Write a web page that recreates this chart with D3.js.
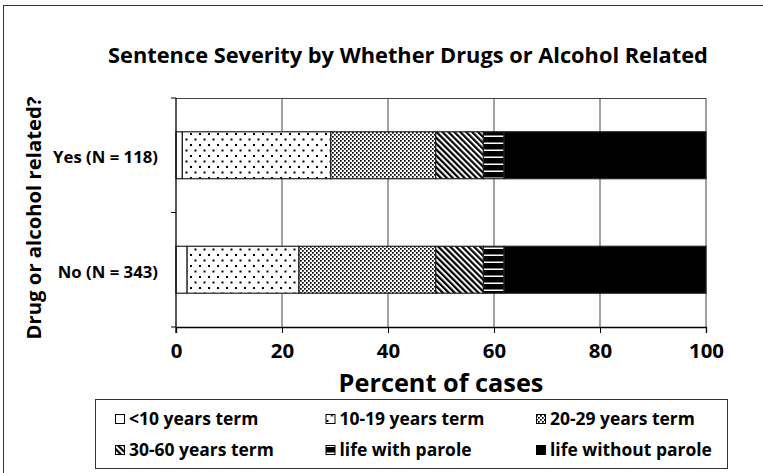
<!DOCTYPE html>
<html><head><meta charset="utf-8">
<script src="https://cdn.jsdelivr.net/npm/d3@7"></script>
<style>
body{margin:0;background:#fff}
text{font-family:"Open Sans",Lato,sans-serif;font-weight:bold;fill:#000}
</style>
</head><body><svg id="c" width="763" height="473"></svg>
<script>
const categories = ["Yes (N = 118)", "No (N = 343)"];
const seriesNames = ["<10 years term","10-19 years term","20-29 years term","30-60 years term","life with parole","life without parole"];
const yesValues = [1.2, 28.0, 19.8, 9.0, 3.9, 38.1];
const noValues  = [2.1, 21.1, 25.8, 9.0, 3.9, 38.1];
const xTicks = [0, 20, 40, 60, 80, 100];
const titleText = "Sentence Severity by Whether Drugs or Alcohol Related";
const xTitle = "Percent of cases";
const yTitle = "Drug or alcohol related?";

const FF = "'Open Sans',Lato,sans-serif";
const svg = d3.select("#c");
const defs = svg.append("defs");

function fit(sel, target){
  const w = sel.node().getComputedTextLength();
  const fs = parseFloat(sel.style("font-size"));
  const nfs = fs*target/w;
  sel.style("font-size", nfs+"px");
  return nfs;
}

// patterns
const p1 = defs.append("pattern").attr("id","p10").attr("patternUnits","userSpaceOnUse").attr("width",9).attr("height",11);
p1.append("rect").attr("width",9).attr("height",11).attr("fill","#fff");
p1.append("rect").attr("x",1).attr("y",1).attr("width",2).attr("height",2).attr("fill","#000");
p1.append("rect").attr("x",5.5).attr("y",6.5).attr("width",2).attr("height",2).attr("fill","#000");

const p2 = defs.append("pattern").attr("id","p20").attr("patternUnits","userSpaceOnUse").attr("width",4).attr("height",4);
p2.append("rect").attr("width",4).attr("height",4).attr("fill","#fff");
p2.append("rect").attr("x",0).attr("y",0).attr("width",1.7).attr("height",1.7).attr("fill","#000");
p2.append("rect").attr("x",2).attr("y",2).attr("width",1.7).attr("height",1.7).attr("fill","#000");

const p3 = defs.append("pattern").attr("id","p30").attr("patternUnits","userSpaceOnUse").attr("width",4.2).attr("height",4.2).attr("patternTransform","rotate(-45)");
p3.append("rect").attr("width",4.2).attr("height",4.2).attr("fill","#fff");
p3.append("rect").attr("width",2.2).attr("height",4.2).attr("fill","#000");

const p4 = defs.append("pattern").attr("id","plp").attr("patternUnits","userSpaceOnUse").attr("width",8).attr("height",7);
p4.append("rect").attr("width",8).attr("height",7).attr("fill","#000");
p4.append("rect").attr("y",2.5).attr("width",8).attr("height",1.5).attr("fill","#fff");

const fills = ["#fff","url(#p10)","url(#p20)","url(#p30)","url(#plp)","#000"];

// outer border (right and bottom edges run off the canvas)
svg.append("rect").attr("x",3.5).attr("y",5.5).attr("width",780).attr("height",480)
  .attr("fill","none").attr("stroke","#333").attr("stroke-width",1);

const x = d3.scaleLinear().domain([0,100]).range([176,706]);
const y = d3.scaleBand().domain(categories).range([98,327]).paddingInner(0.59).paddingOuter(0.295);

// gridlines
svg.append("g").selectAll("line").data(xTicks.slice(1)).join("line")
  .attr("x1",d=>x(d)).attr("x2",d=>x(d)).attr("y1",98).attr("y2",327)
  .attr("stroke","#444").attr("stroke-width",1);
svg.append("line").attr("x1",176).attr("x2",706).attr("y1",98.5).attr("y2",98.5).attr("stroke","#444");

// stacked bars
const rows = categories.map((c,i)=>{
  const vals = i===0 ? yesValues : noValues;
  const o = {cat:c};
  seriesNames.forEach((s,j)=>o[s]=vals[j]);
  return o;
});
const stack = d3.stack().keys(seriesNames)(rows);
svg.append("g").selectAll("g").data(stack).join("g")
  .attr("fill",(d,i)=>fills[i])
  .selectAll("rect").data(d=>d).join("rect")
  .attr("x",d=>x(d[0])).attr("width",d=>x(d[1])-x(d[0]))
  .attr("y",d=>y(d.data.cat)).attr("height",y.bandwidth())
  .attr("stroke","#222").attr("stroke-width",1.2);

// axes
const xAxis = svg.append("g").attr("transform","translate(0,327)")
  .call(d3.axisBottom(x).tickValues(xTicks).tickSize(6).tickPadding(9));
xAxis.select(".domain").attr("stroke","#000").attr("stroke-width",1.3);
xAxis.selectAll(".tick line").attr("stroke","#000");
xAxis.selectAll("text").style("font-size","19px").style("font-family",FF).style("font-weight","bold").attr("dy","0.8em");
{
  const last = xAxis.selectAll("text").filter(d=>d===100);
  const fs = fit(last, 35);
  xAxis.selectAll("text").style("font-size", fs+"px");
}

// y axis line with ticks at band boundaries
svg.append("line").attr("x1",176).attr("x2",176).attr("y1",98).attr("y2",333).attr("stroke","#000").attr("stroke-width",1.3);
const bounds = [98, (98+327)/2, 327];
svg.append("g").selectAll("line").data(bounds).join("line")
  .attr("x1",171).attr("x2",176).attr("y1",d=>d).attr("y2",d=>d).attr("stroke","#000");
const catLabels = svg.append("g").selectAll("text").data(categories).join("text")
  .attr("x",158).attr("y",(d,i)=>y(d)+y.bandwidth()/2+2).attr("dy","0.35em")
  .attr("text-anchor","end").style("font-size","16px").text(d=>d);
{
  const fs = fit(catLabels.filter((d,i)=>i===0), 105);
  catLabels.style("font-size", fs+"px");
}

// titles
fit(svg.append("text").attr("x",408).attr("y",63).attr("text-anchor","middle").style("font-size","22px").text(titleText), 600);
fit(svg.append("text").attr("x",441).attr("y",392).attr("text-anchor","middle").style("font-size","22px").text(xTitle), 205);
fit(svg.append("text").attr("transform","translate(41,218) rotate(-90)").attr("text-anchor","middle").style("font-size","22px").text(yTitle), 243);

// legend
svg.append("rect").attr("x",95.5).attr("y",399.5).attr("width",632).attr("height",69)
  .attr("fill","#fff").attr("stroke","#333");
const colX = [115, 325.5, 536];
const rowY = [419, 450];
const lg = svg.append("g").selectAll("g").data(seriesNames).join("g")
  .attr("transform",(d,i)=>`translate(${colX[i%3]},${rowY[Math.floor(i/3)]})`);
lg.append("rect").attr("x",0.5).attr("y",-4.5).attr("width",9).attr("height",9)
  .attr("fill",(d,i)=>fills[i]).attr("stroke","#000").attr("stroke-width",1);
const lt = lg.append("text").attr("x",14).attr("dy","0.35em").style("font-size","16px").text(d=>d);
{
  const fs = fit(lt.filter((d,i)=>i===5), 162);
  lt.style("font-size", fs+"px");
}
</script>
</body></html>
